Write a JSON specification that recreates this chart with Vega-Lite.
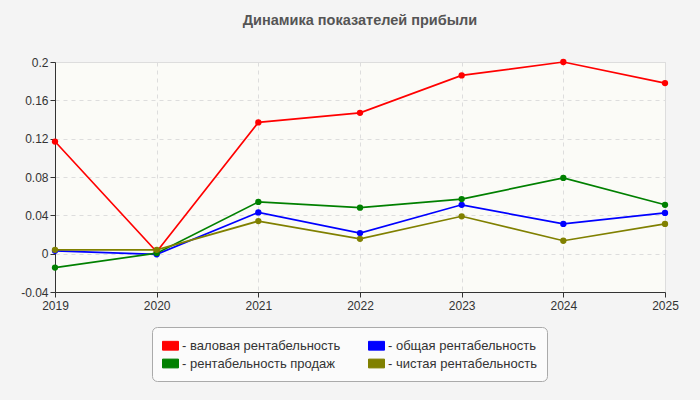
{
  "$schema": "https://vega.github.io/schema/vega-lite/v6.json",
  "width": 610,
  "height": 230,
  "autosize": {"type": "none"},
  "padding": {"left": 55, "top": 62, "right": 35, "bottom": 108},
  "background": "#f4f4f4",
  "title": {
    "text": "Динамика показателей прибыли",
    "font": "Liberation Sans",
    "fontSize": 14.5,
    "fontWeight": "bold",
    "color": "#555555",
    "anchor": "middle",
    "offset": 28
  },
  "config": {
    "font": "Liberation Sans",
    "view": {"fill": "#fbfbf7", "stroke": "#dddddd"},
    "axis": {
      "labelFont": "Liberation Sans",
      "labelFontSize": 12,
      "labelColor": "#333333",
      "domainColor": "#333333",
      "tickColor": "#333333",
      "tickSize": 5,
      "gridColor": "#dddddd",
      "gridDash": [4, 4],
      "title": null
    }
  },
  "data": {
    "values": [
      {"year": "2019", "series": "валовая рентабельность", "value": 0.117},
      {"year": "2020", "series": "валовая рентабельность", "value": 0.002},
      {"year": "2021", "series": "валовая рентабельность", "value": 0.137},
      {"year": "2022", "series": "валовая рентабельность", "value": 0.147},
      {"year": "2023", "series": "валовая рентабельность", "value": 0.186},
      {"year": "2024", "series": "валовая рентабельность", "value": 0.2},
      {"year": "2025", "series": "валовая рентабельность", "value": 0.178},
      {"year": "2019", "series": "общая рентабельность", "value": 0.003},
      {"year": "2020", "series": "общая рентабельность", "value": -0.0007},
      {"year": "2021", "series": "общая рентабельность", "value": 0.043},
      {"year": "2022", "series": "общая рентабельность", "value": 0.0215},
      {"year": "2023", "series": "общая рентабельность", "value": 0.051},
      {"year": "2024", "series": "общая рентабельность", "value": 0.031},
      {"year": "2025", "series": "общая рентабельность", "value": 0.0425},
      {"year": "2019", "series": "рентабельность продаж", "value": -0.0145},
      {"year": "2020", "series": "рентабельность продаж", "value": 0.0005},
      {"year": "2021", "series": "рентабельность продаж", "value": 0.054},
      {"year": "2022", "series": "рентабельность продаж", "value": 0.048},
      {"year": "2023", "series": "рентабельность продаж", "value": 0.057},
      {"year": "2024", "series": "рентабельность продаж", "value": 0.079},
      {"year": "2025", "series": "рентабельность продаж", "value": 0.051},
      {"year": "2019", "series": "чистая рентабельность", "value": 0.004},
      {"year": "2020", "series": "чистая рентабельность", "value": 0.004},
      {"year": "2021", "series": "чистая рентабельность", "value": 0.034},
      {"year": "2022", "series": "чистая рентабельность", "value": 0.0155},
      {"year": "2023", "series": "чистая рентабельность", "value": 0.039},
      {"year": "2024", "series": "чистая рентабельность", "value": 0.0135},
      {"year": "2025", "series": "чистая рентабельность", "value": 0.031}
    ]
  },
  "mark": {"type": "line", "strokeWidth": 1.7, "point": {"filled": true, "size": 40, "opacity": 1}},
  "encoding": {
    "x": {
      "field": "year",
      "type": "ordinal",
      "scale": {"type": "point", "padding": 0},
      "axis": {"labelAngle": 0, "grid": true, "labelPadding": 3}
    },
    "y": {
      "field": "value",
      "type": "quantitative",
      "scale": {"domain": [-0.04, 0.2], "nice": false, "zero": false},
      "axis": {
        "values": [-0.04, 0, 0.04, 0.08, 0.12, 0.16, 0.2],
        "labelExpr": "replace(format(datum.value, '~g'), '\u2212', '-')",
        "grid": true
      }
    },
    "color": {
      "field": "series",
      "type": "nominal",
      "scale": {
        "domain": ["валовая рентабельность", "общая рентабельность", "рентабельность продаж", "чистая рентабельность"],
        "range": ["#ff0000", "#0000ff", "#008000", "#808000"]
      },
      "legend": {
        "title": null,
        "orient": "none",
        "legendX": 97,
        "legendY": 265,
        "direction": "horizontal",
        "columns": 2,
        "padding": 10,
        "strokeColor": "#aaaaaa",
        "fillColor": "#fbfbfb",
        "cornerRadius": 5,
        "labelFont": "Liberation Sans",
        "labelFontSize": 13,
        "labelColor": "#333333",
        "labelOffset": 3,
        "columnPadding": 25,
        "rowPadding": 2,
        "labelExpr": "'- ' + datum.label",
        "symbolType": "M-1,-0.55L1,-0.55L1,0.55L-1,0.55Z",
        "symbolSize": 256,
        "encode": {
          "symbols": {
            "update": {
              "fill": {"scale": "color", "field": "value"},
              "stroke": {"value": "#999999"},
              "strokeWidth": {"value": 1},
              "opacity": {"value": 1}
            }
          }
        }
      }
    }
  }
}
